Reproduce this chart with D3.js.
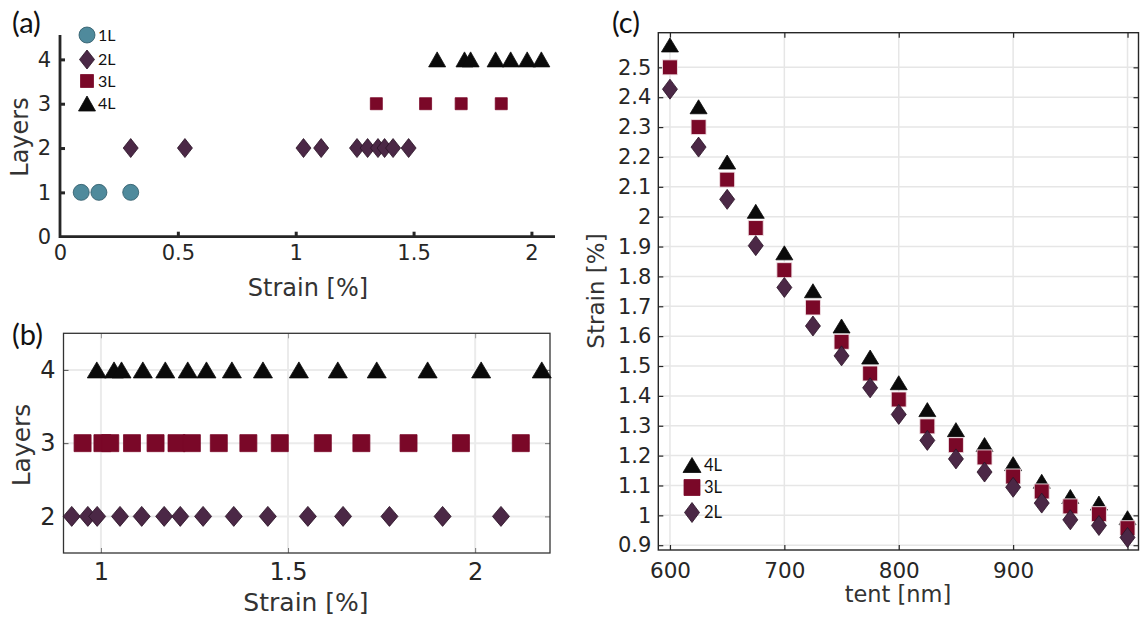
<!DOCTYPE html>
<html><head><meta charset="utf-8">
<script src="https://cdn.jsdelivr.net/npm/d3@7"></script>
<style>
body{margin:0;background:#fff;}
svg{display:block;}
</style></head><body>
<svg id="fig" width="1141" height="619"></svg>
<script>
// ---- panel (a): strain at which each flake thickness was observed ----
const strainA1L = [0.09, 0.165, 0.30];
const strainA2L = [0.30, 0.53, 1.033, 1.108, 1.26, 1.305, 1.349, 1.377, 1.413, 1.479];
const strainA3L = [1.342, 1.551, 1.702, 1.872];
const strainA4L = [1.60, 1.716, 1.742, 1.848, 1.912, 1.982, 2.042];
const ticksAX = [0, 0.5, 1, 1.5, 2];
const ticksAY = [0, 1, 2, 3, 4];

// ---- panel (b): simulated strain per layer count ----
const strainB4L = [0.989, 1.035, 1.055, 1.112, 1.172, 1.232, 1.282, 1.35, 1.433, 1.529, 1.633, 1.737, 1.873, 2.016, 2.178];
const strainB3L = [0.951, 1.004, 1.025, 1.083, 1.146, 1.202, 1.243, 1.315, 1.394, 1.478, 1.593, 1.696, 1.822, 1.962, 2.122];
const strainB2L = [0.922, 0.965, 0.99, 1.051, 1.109, 1.169, 1.212, 1.273, 1.355, 1.446, 1.553, 1.647, 1.771, 1.913, 2.069];
const ticksBX = [1, 1.5, 2];
const ticksBY = [2, 3, 4];

// ---- panel (c): strain versus tent size ----
const tentNm = [600, 625, 650, 675, 700, 725, 750, 775, 800, 825, 850, 875, 900, 925, 950, 975, 1000];
const strainC4L = [2.575, 2.368, 2.183, 2.018, 1.879, 1.752, 1.634, 1.530, 1.444, 1.354, 1.287, 1.237, 1.173, 1.114, 1.063, 1.041, 0.992];
const strainC3L = [2.50, 2.30, 2.124, 1.962, 1.821, 1.696, 1.581, 1.475, 1.388, 1.298, 1.235, 1.194, 1.130, 1.080, 1.030, 1.004, 0.957];
const strainC2L = [2.427, 2.233, 2.058, 1.903, 1.763, 1.634, 1.534, 1.427, 1.338, 1.251, 1.189, 1.145, 1.094, 1.041, 0.985, 0.966, 0.926];
const ticksCX = [600, 700, 800, 900, 1000];
const labelsCX = ["600", "700", "800", "900", ""];
const ticksCY = [0.9, 1.0, 1.1, 1.2, 1.3, 1.4, 1.5, 1.6, 1.7, 1.8, 1.9, 2.0, 2.1, 2.2, 2.3, 2.4, 2.5];

const INK = "#262626";
const TICK_FONT = "'DejaVu Sans', sans-serif";
const LABEL_FONT = "Lato, 'Open Sans', sans-serif";

// marker outlines
const shape = {
  circle: s => d3.symbol(d3.symbolCircle, Math.PI * s.r * s.r)(),
  square: s => `M${-s.a/2},${-s.a/2}h${s.a}v${s.a}h${-s.a}Z`,
  triangle: s => `M0,${-s.h/2}L${s.w/2},${s.h/2}L${-s.w/2},${s.h/2}Z`,
  diamond: s => `M0,${-s.h/2}L${s.w/2},0L0,${s.h/2}L${-s.w/2},0Z`
};
const style = {
  "1L": {kind: "circle", fill: "#4f8a9c", stroke: "#2b5766"},
  "2L": {kind: "diamond", fill: "#4b2846", stroke: "#2a1326"},
  "3L": {kind: "square", fill: "#7a0828", stroke: "#7a0828"},
  "4L": {kind: "triangle", fill: "#0a0a0a", stroke: "#0a0a0a"}
};

const svg = d3.select("#fig");

function drawMarkers(g, pts, key, size, sw, strokeColor) {
  const st = style[key];
  const d = shape[st.kind](size);
  g.append("g").selectAll("path").data(pts).join("path")
    .attr("d", d)
    .attr("transform", p => `translate(${p[0]},${p[1]})`)
    .attr("fill", st.fill)
    .attr("stroke", strokeColor || st.stroke)
    .attr("stroke-width", sw == null ? 0.8 : sw);
}

function legendRow(g, x, y, key, size, label, fs) {
  drawMarkers(g, [[x, y]], key, size);
  g.append("text").attr("x", x + size.gap).attr("y", y)
    .attr("dy", "0.36em")
    .attr("font-family", LABEL_FONT).attr("font-size", fs).attr("fill", "#111")
    .text(label);
}

function panelLabel(text, x, y) {
  svg.append("text").attr("x", x).attr("y", y)
    .attr("font-family", LABEL_FONT).attr("font-size", 29).attr("fill", "#111")
    .text(text);
}

function axisTitle(text, x, y, fs, rotate) {
  const t = svg.append("text")
    .attr("font-family", TICK_FONT).attr("font-size", fs).attr("fill", "#333")
    .attr("text-anchor", "middle").text(text);
  if (rotate) t.attr("transform", `translate(${x},${y}) rotate(-90)`);
  else t.attr("x", x).attr("y", y);
}

function styleAxis(g, fs, width, color) {
  g.selectAll("text").attr("font-family", TICK_FONT).attr("font-size", fs).attr("fill", INK);
  g.selectAll("line").attr("stroke", color || INK).attr("stroke-width", width);
}

// ================= panel (a) =================
{
  const x = d3.scaleLinear().domain([0, 2.1]).range([60, 555]);
  const y = d3.scaleLinear().domain([0, 4.55]).range([236.7, 35]);
  const g = svg.append("g");

  const ax = g.append("g").attr("transform", `translate(0,${y(0)})`)
    .call(d3.axisBottom(x).tickValues(ticksAX).tickFormat(d3.format("~g"))
      .tickSizeInner(-5).tickSizeOuter(0).tickPadding(8));
  ax.select(".domain").remove();
  styleAxis(ax, 21, 3);
  ax.selectAll(".tick").filter(d => d === 0).select("line").remove();

  const ay = g.append("g").attr("transform", `translate(${x(0)},0)`)
    .call(d3.axisLeft(y).tickValues(ticksAY).tickFormat(d3.format("d"))
      .tickSizeInner(-5).tickSizeOuter(0).tickPadding(9));
  ay.select(".domain").remove();
  styleAxis(ay, 21, 3);
  ay.selectAll(".tick").filter(d => d === 0).select("line").remove();

  // axis lines (left and bottom only)
  g.append("path")
    .attr("d", `M${x(0)},${y(4.55)}V${y(0)}H${x(2.1)}`)
    .attr("fill", "none").attr("stroke", INK).attr("stroke-width", 2.8);

  const sz = {
    "1L": {r: 8}, "2L": {w: 15, h: 19}, "3L": {a: 12}, "4L": {w: 17, h: 15}
  };
  drawMarkers(g, strainA1L.map(v => [x(v), y(1)]), "1L", sz["1L"]);
  drawMarkers(g, strainA2L.map(v => [x(v), y(2)]), "2L", sz["2L"]);
  drawMarkers(g, strainA3L.map(v => [x(v), y(3)]), "3L", sz["3L"]);
  drawMarkers(g, strainA4L.map(v => [x(v), y(4)]), "4L", sz["4L"]);

  const lg = svg.append("g");
  legendRow(lg, 87, 35, "1L", {r: 8, gap: 11}, "1L", 16);
  legendRow(lg, 87, 59.5, "2L", {w: 15, h: 19, gap: 11}, "2L", 16);
  legendRow(lg, 87, 81, "3L", {a: 13, gap: 11}, "3L", 16);
  legendRow(lg, 87, 103.5, "4L", {w: 17, h: 15, gap: 11}, "4L", 16);

  axisTitle("Strain [%]", 308, 296, 24, false);
  axisTitle("Layers", 28, 137, 24, true);
  panelLabel("(a)", 12, 33);
}

// ================= panel (b) =================
{
  const x = d3.scaleLinear().domain([0.9, 2.2]).range([63.5, 550]);
  const y = d3.scaleLinear().domain([1.5, 4.5]).range([553, 333.3]);
  const g = svg.append("g");

  // grid
  g.append("g").selectAll("line").data(ticksBX).join("line")
    .attr("x1", d => x(d)).attr("x2", d => x(d)).attr("y1", y(4.5)).attr("y2", y(1.5))
    .attr("stroke", "#ebebeb").attr("stroke-width", 2);
  g.append("g").selectAll("line").data(ticksBY).join("line")
    .attr("y1", d => y(d)).attr("y2", d => y(d)).attr("x1", x(0.9)).attr("x2", x(2.2))
    .attr("stroke", "#ebebeb").attr("stroke-width", 2);

  const ax = g.append("g").attr("transform", `translate(0,${y(1.5)})`)
    .call(d3.axisBottom(x).tickValues(ticksBX).tickFormat(d3.format("~g"))
      .tickSizeInner(-5).tickSizeOuter(0).tickPadding(10));
  ax.select(".domain").remove();
  styleAxis(ax, 24, 1, "#777");
  const axT = g.append("g").attr("transform", `translate(0,${y(4.5)})`)
    .call(d3.axisTop(x).tickValues(ticksBX).tickFormat("").tickSizeInner(-5).tickSizeOuter(0));
  axT.select(".domain").remove();
  styleAxis(axT, 24, 1, "#999");

  const ay = g.append("g").attr("transform", `translate(${x(0.9)},0)`)
    .call(d3.axisLeft(y).tickValues(ticksBY).tickFormat(d3.format("d"))
      .tickSizeInner(-5).tickSizeOuter(0).tickPadding(8));
  ay.select(".domain").remove();
  styleAxis(ay, 24, 1, "#555");
  const ayR = g.append("g").attr("transform", `translate(${x(2.2)},0)`)
    .call(d3.axisRight(y).tickValues(ticksBY).tickFormat("").tickSizeInner(-5).tickSizeOuter(0));
  ayR.select(".domain").remove();
  styleAxis(ayR, 24, 1, "#777");

  g.append("rect").attr("x", x(0.9)).attr("y", y(4.5))
    .attr("width", x(2.2) - x(0.9)).attr("height", y(1.5) - y(4.5))
    .attr("fill", "none").attr("stroke", "#333").attr("stroke-width", 1.3);

  drawMarkers(g, strainB2L.map(v => [x(v), y(2)]), "2L", {w: 17, h: 20});
  drawMarkers(g, strainB3L.map(v => [x(v), y(3)]), "3L", {a: 17});
  drawMarkers(g, strainB4L.map(v => [x(v), y(4)]), "4L", {w: 19, h: 16});

  axisTitle("Strain [%]", 306, 611, 25, false);
  axisTitle("Layers", 30, 445, 25, true);
  panelLabel("(b)", 12, 345);
}

// ================= panel (c) =================
{
  const x = d3.scaleLinear().domain([589.8, 1009.6]).range([658.3, 1138.5]);
  const y = d3.scaleLinear().domain([0.884, 2.616]).range([550, 32.7]);
  const g = svg.append("g");

  g.append("g").selectAll("line").data(ticksCX).join("line")
    .attr("x1", d => x(d)).attr("x2", d => x(d)).attr("y1", y(2.616)).attr("y2", y(0.884))
    .attr("stroke", "#e6e6e6").attr("stroke-width", 1.5);
  g.append("g").selectAll("line").data(ticksCY).join("line")
    .attr("y1", d => y(d)).attr("y2", d => y(d)).attr("x1", x(589.8)).attr("x2", x(1009.6))
    .attr("stroke", "#e6e6e6").attr("stroke-width", 1.5);

  const ax = g.append("g").attr("transform", `translate(0,${y(0.884)})`)
    .call(d3.axisBottom(x).tickValues(ticksCX).tickFormat((d, i) => labelsCX[i])
      .tickSizeInner(-5).tickSizeOuter(0).tickPadding(13));
  ax.select(".domain").remove();
  styleAxis(ax, 21.5, 1.2);
  const axT = g.append("g").attr("transform", `translate(0,${y(2.616)})`)
    .call(d3.axisTop(x).tickValues(ticksCX).tickFormat("").tickSizeInner(-5).tickSizeOuter(0));
  axT.select(".domain").remove();
  styleAxis(axT, 21, 1.2);

  const ay = g.append("g").attr("transform", `translate(${x(589.8)},0)`)
    .call(d3.axisLeft(y).tickValues(ticksCY).tickFormat(d3.format("~g"))
      .tickSizeInner(-5).tickSizeOuter(0).tickPadding(7));
  ay.select(".domain").remove();
  styleAxis(ay, 21, 1.2);
  const ayR = g.append("g").attr("transform", `translate(${x(1009.6)},0)`)
    .call(d3.axisRight(y).tickValues(ticksCY).tickFormat("").tickSizeInner(-5).tickSizeOuter(0));
  ayR.select(".domain").remove();
  styleAxis(ayR, 21, 1.2);

  g.append("rect").attr("x", x(589.8)).attr("y", y(2.616))
    .attr("width", x(1009.6) - x(589.8)).attr("height", y(0.884) - y(2.616))
    .attr("fill", "none").attr("stroke", INK).attr("stroke-width", 1.4);

  drawMarkers(g, tentNm.map((t, i) => [x(t), y(strainC4L[i])]), "4L", {w: 17, h: 14});
  drawMarkers(g, tentNm.map((t, i) => [x(t), y(strainC3L[i])]), "3L", {a: 15}, 0.9, "#f2e4e8");
  drawMarkers(g, tentNm.map((t, i) => [x(t), y(strainC2L[i])]), "2L", {w: 15, h: 20});

  const lg = svg.append("g");
  legendRow(lg, 692, 465, "4L", {w: 18, h: 15, gap: 12}, "4L", 16.5);
  legendRow(lg, 692, 487.5, "3L", {a: 16, gap: 12}, "3L", 16.5);
  legendRow(lg, 692, 512.5, "2L", {w: 15, h: 20, gap: 12}, "2L", 16.5);

  axisTitle("tent [nm]", 898, 602, 22.5, false);
  axisTitle("Strain [%]", 604, 291, 23, true);
  panelLabel("(c)", 612, 33);
}
</script>
</body></html>
